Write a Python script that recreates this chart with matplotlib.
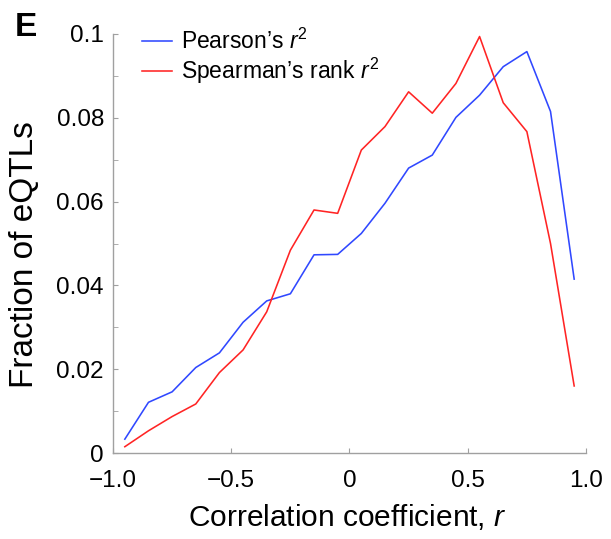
import matplotlib
matplotlib.use("Agg")
import matplotlib.pyplot as plt
import numpy as np

plt.rcParams['font.family'] = ['Liberation Sans', 'DejaVu Sans']
plt.rcParams['mathtext.fontset'] = 'custom'
plt.rcParams['mathtext.rm'] = 'Liberation Sans'
plt.rcParams['mathtext.it'] = 'Liberation Sans:italic'

r_centers = [-0.95, -0.85, -0.75, -0.65, -0.55, -0.45, -0.35, -0.25, -0.15, -0.05,
             0.05, 0.15, 0.25, 0.35, 0.45, 0.55, 0.65, 0.75, 0.85, 0.95]
pearson = [0.0033, 0.0121, 0.0146, 0.0204, 0.0239, 0.0312, 0.0363, 0.0380, 0.0473, 0.0474,
           0.0524, 0.0596, 0.0680, 0.0711, 0.0801, 0.0854, 0.0922, 0.0958, 0.0815, 0.0415]
spearman = [0.0015, 0.0053, 0.0087, 0.0117, 0.0192, 0.0246, 0.0337, 0.0484, 0.0580, 0.0572,
            0.0723, 0.0779, 0.0862, 0.0811, 0.0882, 0.0994, 0.0836, 0.0767, 0.0500, 0.0160]
xticks = [-1.0, -0.5, 0, 0.5, 1.0]
xticklabels = ['\u22121.0', '\u22120.5', '0', '0.5', '1.0']
yticks = [0, 0.02, 0.04, 0.06, 0.08, 0.1]
yticklabels = ['0', '0.02', '0.04', '0.06', '0.08', '0.1']

W, H = 611, 539
fig = plt.figure(figsize=(W/100, H/100), dpi=100)
ax = fig.add_axes([113/W, 1-453/H, (586-113)/W, (453-34)/H])

ax.plot(r_centers, pearson, color='#3048ff', lw=1.15, label=r"Pearson’s $\mathit{r}^{\mathrm{2}}$")
ax.plot(r_centers, spearman, color='#ff2424', lw=1.15, label=r"Spearman’s rank $\mathit{r}^{\mathrm{2}}$")

ax.set_xlim(-1, 1)
ax.set_ylim(0, 0.1)
ax.set_xticks(xticks)
ax.set_xticklabels(xticklabels)
ax.set_yticks(yticks)
ax.set_yticklabels(yticklabels)
ax.set_yticks(np.arange(0.01, 0.1, 0.02), minor=True)
for s in ['top', 'right']:
    ax.spines[s].set_visible(False)
for s in ['left', 'bottom']:
    ax.spines[s].set_color('#a0a0a0')
    ax.spines[s].set_linewidth(1.0)
ax.tick_params(which='both', direction='in', length=3.6, color='#a0a0a0', labelsize=17.5)
ax.tick_params(axis='y', pad=6.5)
ax.tick_params(axis='x', pad=12)

ax.set_xlabel(r"Correlation coefficient, $\mathit{r}$", fontsize=21.5)
ax.xaxis.set_label_coords(0.495, -0.118)
ax.set_ylabel("Fraction of eQTLs", fontsize=24)
ax.yaxis.set_label_coords(-0.188, 0.4726)
ax.yaxis.label.set_va('center')

ax.legend(loc='center left', bbox_to_anchor=(0.061, 0.944), frameon=False, fontsize=16.5,
          handlelength=1.3, handletextpad=0.4, labelspacing=0.1, borderpad=0, borderaxespad=0)

fig.text(15/W, 1-36/H, 'E', fontsize=24, fontweight='bold', ha='left', va='baseline')

fig.savefig('out.png', dpi=100)
